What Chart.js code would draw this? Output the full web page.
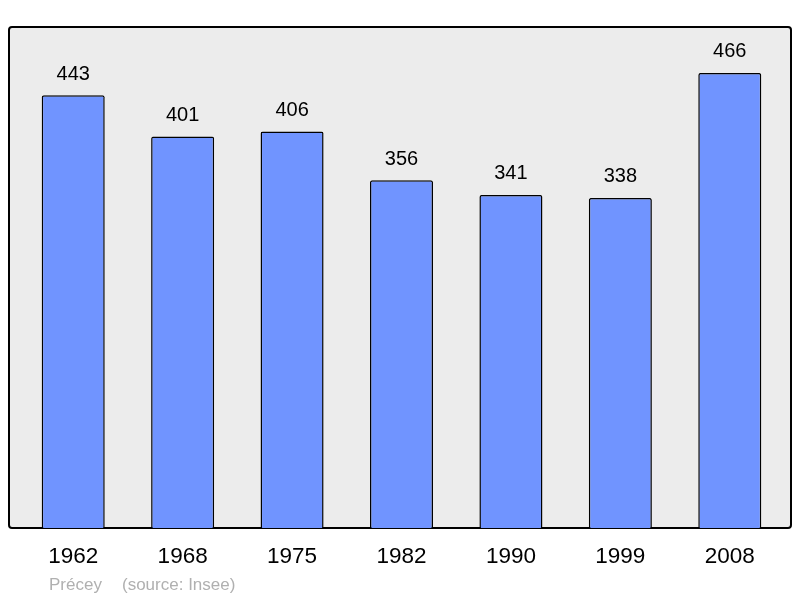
<!DOCTYPE html>
<html>
<head>
<meta charset="utf-8">
<script src="https://cdn.jsdelivr.net/npm/chart.js@4"></script>
<style>
  body { margin: 0; background: #fff; }
  #wrap { width: 800px; height: 598px; }
</style>
</head>
<body>
<div id="wrap"><canvas id="c" width="800" height="598"></canvas></div>
<script>
const years = ['1962', '1968', '1975', '1982', '1990', '1999', '2008'];
const population = [443, 401, 406, 356, 341, 338, 466];
const commune = 'Précey';
const source = '(source: Insee)';

// frame + grey background behind the bars
const framePlugin = {
  id: 'frame',
  beforeDraw(chart) {
    const ctx = chart.ctx;
    const a = chart.chartArea;
    const x0 = 9, x1 = 791, y0 = a.top, y1 = a.bottom;
    ctx.save();
    ctx.beginPath();
    ctx.roundRect(x0, y0, x1 - x0, y1 - y0, 3);
    ctx.fillStyle = '#ececec';
    ctx.fill();
    ctx.lineWidth = 2;
    ctx.strokeStyle = '#000';
    ctx.stroke();
    ctx.restore();
  },
  afterDatasetsDraw(chart) {
    const ctx = chart.ctx;
    const xs = chart.scales.x, ys = chart.scales.y;
    ctx.save();
    ctx.fillStyle = '#000';
    ctx.textAlign = 'center';
    ctx.textBaseline = 'middle';
    ctx.font = '20px "Liberation Sans", Arial, sans-serif';
    population.forEach((v, i) => {
      ctx.fillText(String(v), xs.getPixelForValue(i), ys.getPixelForValue(v) - 21);
    });
    ctx.font = '22.5px "Liberation Sans", Arial, sans-serif';
    years.forEach((y, i) => {
      ctx.fillText(y, xs.getPixelForValue(i), 557);
    });
    ctx.fillStyle = '#b0b0b0';
    ctx.textAlign = 'left';
    ctx.font = '17px "Liberation Sans", Arial, sans-serif';
    ctx.fillText(commune, 49, 585);
    ctx.fillText(source, 122, 585);
    ctx.restore();
  }
};

new Chart(document.getElementById('c'), {
  type: 'bar',
  data: {
    labels: years,
    datasets: [{
      data: population,
      backgroundColor: '#7094ff',
      borderColor: '#000',
      borderWidth: 1.5,
      borderRadius: 2,
      borderSkipped: 'bottom',
      categoryPercentage: 1,
      barPercentage: 0.576
    }]
  },
  options: {
    responsive: false,
    animation: false,
    layout: { padding: { left: 18.5, right: 15.5, top: 27, bottom: 70 } },
    plugins: { legend: { display: false }, tooltip: { enabled: false } },
    scales: {
      x: { display: false },
      y: { display: false, min: 0, max: 513 }
    }
  },
  plugins: [framePlugin]
});
</script>
</body>
</html>
